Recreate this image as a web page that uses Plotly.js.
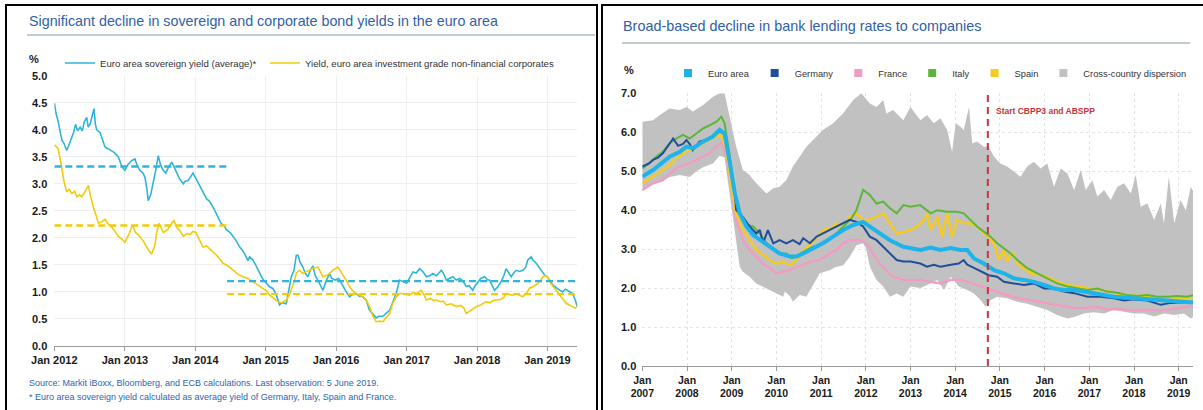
<!DOCTYPE html>
<html><head><meta charset="utf-8">
<script src="https://cdn.plot.ly/plotly-3.0.1.min.js"></script>
<style>html,body{margin:0;padding:0;background:#fff}#chart{width:1203px;height:410px}</style>
</head><body><div id="chart"></div>
<script>
// ---------------- LEFT PANEL DATA ----------------
const leftTitle = "Significant decline in sovereign and corporate bond yields in the euro area";
const sovName = "Euro area sovereign yield (average)*";
const corpName = "Yield, euro area investment grade non-financial corporates";
const sourceNote1 = "Source: Markit iBoxx, Bloomberg, and ECB calculations. Last observation: 5 June 2019.";
const sourceNote2 = "* Euro area sovereign yield calculated as average yield of Germany, Italy, Spain and France.";

const sovDates = ["2012-01-02","2012-01-10","2012-01-20","2012-02-01","2012-02-10","2012-02-20","2012-03-05","2012-03-15","2012-04-01","2012-04-10","2012-04-20","2012-05-01","2012-05-14","2012-05-25","2012-06-05","2012-06-17","2012-06-25","2012-07-04","2012-07-15","2012-07-25","2012-08-01","2012-08-08","2012-08-25","2012-09-05","2012-09-20","2012-10-05","2012-10-20","2012-11-02","2012-11-15","2012-11-28","2012-12-10","2012-12-20",
"2013-01-01","2013-01-15","2013-02-05","2013-02-22","2013-03-05","2013-03-19","2013-04-05","2013-04-15","2013-04-25","2013-05-02","2013-05-15","2013-05-28","2013-06-10","2013-06-23","2013-07-05","2013-07-19","2013-08-01","2013-08-14","2013-09-01","2013-09-15","2013-09-26","2013-10-10","2013-10-31","2013-11-10","2013-11-25","2013-12-10","2013-12-20",
"2014-01-04","2014-01-20","2014-02-10","2014-03-01","2014-03-15","2014-04-03","2014-04-20","2014-05-15","2014-06-01","2014-06-11","2014-07-01","2014-07-16","2014-08-01","2014-08-19","2014-09-01","2014-09-15","2014-10-01","2014-10-10","2014-10-27","2014-11-10","2014-12-01","2014-12-15",
"2015-01-05","2015-01-20","2015-02-08","2015-02-25","2015-03-14","2015-03-28","2015-04-18","2015-05-01","2015-05-14","2015-05-28","2015-06-09","2015-06-18","2015-06-28","2015-07-13","2015-07-25","2015-08-08","2015-08-20","2015-09-03","2015-09-15","2015-09-29","2015-10-10","2015-10-25","2015-11-10","2015-11-28","2015-12-10","2015-12-29",
"2016-01-15","2016-02-05","2016-02-20","2016-03-11","2016-03-25","2016-04-15","2016-05-01","2016-05-19","2016-06-05","2016-06-23","2016-07-10","2016-07-27","2016-08-10","2016-08-31","2016-09-15","2016-10-05","2016-10-20","2016-11-08","2016-11-25","2016-12-10",
"2017-01-01","2017-01-15","2017-02-03","2017-02-20","2017-03-09","2017-03-25","2017-04-13","2017-05-01","2017-05-17","2017-06-05","2017-06-30","2017-07-10","2017-07-26","2017-08-10","2017-08-29","2017-09-15","2017-10-03","2017-10-20","2017-11-06","2017-11-20","2017-12-10","2017-12-20",
"2018-01-02","2018-01-20","2018-02-09","2018-02-25","2018-03-07","2018-03-20","2018-04-02","2018-04-20","2018-05-06","2018-05-20","2018-06-01","2018-06-15","2018-06-27","2018-07-10","2018-07-23","2018-08-10","2018-08-26","2018-09-10","2018-09-21","2018-10-09","2018-10-20","2018-11-04","2018-11-20","2018-12-08","2018-12-20",
"2019-01-01","2019-01-15","2019-01-29","2019-02-15","2019-03-04","2019-03-20","2019-04-05","2019-04-16","2019-05-01","2019-05-12","2019-05-25","2019-06-05"];
const sovYield = [4.49,4.30,4.17,3.95,3.80,3.75,3.62,3.70,3.87,3.95,4.10,3.98,4.05,3.98,4.15,4.23,4.05,4.10,4.25,4.39,4.10,4.00,3.95,3.85,3.68,3.65,3.62,3.59,3.55,3.50,3.38,3.30,
3.25,3.35,3.43,3.46,3.35,3.25,3.20,3.12,2.90,2.69,2.80,3.00,3.25,3.52,3.35,3.25,3.20,3.30,3.40,3.30,3.20,3.10,3.00,3.05,3.06,3.15,3.20,
3.10,3.00,2.85,2.72,2.68,2.57,2.45,2.27,2.22,2.15,2.10,2.03,1.95,1.83,1.78,1.70,1.58,1.65,1.59,1.50,1.34,1.25,
1.16,1.10,1.06,0.95,0.76,0.80,0.78,1.05,1.28,1.40,1.68,1.68,1.55,1.46,1.35,1.28,1.40,1.48,1.30,1.22,1.15,1.03,1.20,1.34,1.25,1.22,
1.25,1.10,1.02,0.91,0.95,0.97,0.92,0.91,0.85,0.66,0.58,0.52,0.55,0.55,0.60,0.66,0.80,0.97,1.22,1.20,
1.16,1.25,1.37,1.35,1.43,1.38,1.28,1.30,1.34,1.30,1.40,1.35,1.22,1.25,1.28,1.22,1.25,1.20,1.10,1.12,1.03,1.10,
1.16,1.25,1.28,1.22,1.22,1.12,1.03,1.10,1.19,1.30,1.43,1.35,1.28,1.35,1.40,1.38,1.40,1.45,1.59,1.65,1.58,1.53,1.45,1.34,1.30,
1.28,1.20,1.13,1.08,1.03,1.00,1.05,1.03,1.00,0.97,0.85,0.73];

const corpDates = ["2012-01-02","2012-01-12","2012-01-21","2012-02-01","2012-02-08","2012-02-20","2012-03-05","2012-03-18","2012-04-01","2012-04-15","2012-04-27","2012-05-10","2012-05-22","2012-06-08","2012-06-26","2012-07-05","2012-07-21","2012-08-05","2012-08-17","2012-09-05","2012-09-20","2012-10-08","2012-10-25","2012-11-10","2012-11-28","2012-12-15",
"2013-01-01","2013-01-20","2013-02-09","2013-02-25","2013-03-19","2013-04-05","2013-04-24","2013-05-08","2013-05-20","2013-06-05","2013-06-15","2013-06-28","2013-07-19","2013-08-10","2013-09-01","2013-09-12","2013-09-26","2013-10-15","2013-10-31","2013-11-20","2013-12-05","2013-12-20",
"2014-01-04","2014-01-20","2014-02-10","2014-03-01","2014-03-16","2014-04-05","2014-04-21","2014-05-10","2014-05-25","2014-06-20","2014-07-16","2014-08-10","2014-09-06","2014-10-01","2014-10-27","2014-11-20","2014-12-18",
"2015-01-05","2015-01-22","2015-02-10","2015-03-06","2015-03-25","2015-04-18","2015-05-01","2015-05-14","2015-05-28","2015-06-09","2015-06-25","2015-07-13","2015-07-30","2015-08-16","2015-09-05","2015-09-29","2015-10-10","2015-10-25","2015-11-10","2015-11-28","2015-12-15",
"2016-01-10","2016-01-25","2016-02-13","2016-02-28","2016-03-11","2016-03-28","2016-04-15","2016-05-01","2016-05-19","2016-06-05","2016-06-23","2016-07-10","2016-07-27","2016-08-15","2016-08-31","2016-09-15","2016-10-05","2016-10-20","2016-11-08","2016-11-25","2016-12-13",
"2017-01-16","2017-02-05","2017-02-20","2017-03-17","2017-04-01","2017-04-13","2017-05-05","2017-05-20","2017-06-03","2017-06-25","2017-07-10","2017-07-26","2017-08-20","2017-09-16","2017-10-10","2017-10-25","2017-11-06","2017-11-25","2017-12-10","2017-12-29",
"2018-01-20","2018-02-18","2018-03-10","2018-03-25","2018-04-10","2018-05-01","2018-05-20","2018-06-01","2018-06-20","2018-07-05","2018-07-23","2018-08-10","2018-08-26","2018-09-15","2018-09-30","2018-10-20","2018-11-13","2018-11-28","2018-12-08","2018-12-20",
"2019-01-01","2019-01-20","2019-02-16","2019-03-10","2019-03-25","2019-04-08","2019-04-25","2019-05-12","2019-05-25","2019-06-05"];
const corpYield = [3.72,3.68,3.65,3.45,3.30,3.05,2.85,2.90,2.82,2.86,2.76,2.80,2.76,2.85,2.97,2.80,2.58,2.40,2.27,2.30,2.34,2.25,2.20,2.12,2.03,1.98,
1.92,2.05,2.24,2.10,2.03,1.95,1.83,1.75,1.71,1.85,2.10,2.27,2.10,2.15,2.27,2.32,2.20,2.12,2.03,2.08,2.06,2.12,
2.10,1.98,1.83,1.85,1.80,1.75,1.68,1.60,1.53,1.48,1.40,1.33,1.28,1.25,1.19,1.13,1.07,
1.02,0.94,0.88,0.82,0.80,0.85,0.92,1.03,1.18,1.35,1.40,1.34,1.38,1.40,1.44,1.46,1.38,1.28,1.30,1.34,1.40,
1.46,1.38,1.28,1.18,1.10,1.02,0.97,0.94,0.91,0.85,0.73,0.55,0.45,0.46,0.45,0.52,0.60,0.78,0.91,0.97,0.97,
0.94,0.99,0.97,1.03,0.95,0.85,0.88,0.84,0.85,0.82,0.83,0.76,0.78,0.73,0.75,0.70,0.60,0.65,0.68,0.73,
0.76,0.82,0.80,0.84,0.85,0.86,0.90,0.97,0.95,0.94,0.97,0.94,0.91,0.98,1.07,1.10,1.16,1.22,1.28,1.30,
1.28,1.15,1.03,0.92,0.85,0.79,0.76,0.73,0.70,0.73];

// period averages (dashed lines)
const avgPeriodStart = ["2012-01-01","2014-06-15"];
const avgPeriodEnd = ["2014-06-23","2019-06-05"];
const sovAverage = [3.32, 1.20];
const corpAverage = [2.23, 0.96];

// ---------------- RIGHT PANEL DATA ----------------
const rightTitle = "Broad-based decline in bank lending rates to companies";
const yearTicks = [2007,2008,2009,2010,2011,2012,2013,2014,2015,2016,2017,2018,2019];
const yearLabels = yearTicks.map(y => "Jan<br>" + y);
const cbppStart = 2014.73;
const cbppLabel = "Start CBPP3 and ABSPP";

const euroArea = [[2007.00,4.86],[2007.24,5.03],[2007.61,5.37],[2007.84,5.50],[2007.99,5.63],[2008.13,5.59],[2008.36,5.76],[2008.58,5.89],[2008.73,6.06],[2008.84,5.97],[2008.96,5.20],[2009.07,4.43],[2009.18,3.92],[2009.33,3.58],[2009.48,3.36],[2009.70,3.19],[2009.93,3.02],[2010.07,2.89],[2010.30,2.81],[2010.45,2.81],[2010.60,2.89],[2010.82,3.02],[2011.04,3.15],[2011.27,3.32],[2011.49,3.49],[2011.72,3.62],[2011.94,3.70],[2012.09,3.58],[2012.31,3.40],[2012.54,3.23],[2012.84,3.06],[2013.00,3.02],[2013.22,2.98],[2013.45,3.04],[2013.67,2.98],[2013.90,3.03],[2014.12,2.98],[2014.27,2.98],[2014.42,2.76],[2014.64,2.63],[2014.87,2.46],[2015.09,2.38],[2015.31,2.25],[2015.54,2.21],[2015.76,2.16],[2015.99,2.08],[2016.21,1.99],[2016.43,1.95],[2016.66,1.95],[2016.88,1.91],[2017.10,1.86],[2017.33,1.82],[2017.55,1.78],[2017.78,1.76],[2018.00,1.74],[2018.22,1.71],[2018.45,1.69],[2018.67,1.67],[2018.90,1.65],[2019.12,1.64],[2019.32,1.63]];

const germany = [[2007.00,5.12],[2007.15,5.20],[2007.24,5.29],[2007.35,5.35],[2007.46,5.46],[2007.55,5.60],[2007.69,5.84],[2007.80,5.65],[2007.91,5.70],[2007.99,5.80],[2008.06,5.70],[2008.13,5.54],[2008.21,5.65],[2008.28,5.76],[2008.36,5.78],[2008.58,5.90],[2008.73,6.02],[2008.84,5.95],[2008.96,5.25],[2009.07,4.45],[2009.10,4.00],[2009.25,3.83],[2009.40,3.58],[2009.55,3.40],[2009.63,3.49],[2009.70,3.15],[2009.81,3.49],[2009.93,3.15],[2010.07,3.23],[2010.22,3.15],[2010.37,3.23],[2010.52,3.13],[2010.60,3.28],[2010.75,3.15],[2010.90,3.32],[2011.04,3.40],[2011.19,3.49],[2011.34,3.58],[2011.49,3.66],[2011.64,3.75],[2011.79,3.70],[2011.94,3.58],[2012.09,3.32],[2012.24,3.23],[2012.39,3.06],[2012.54,2.89],[2012.69,2.72],[2012.84,2.68],[2013.00,2.68],[2013.22,2.63],[2013.37,2.55],[2013.52,2.60],[2013.67,2.55],[2013.90,2.60],[2014.08,2.63],[2014.19,2.72],[2014.27,2.60],[2014.42,2.52],[2014.64,2.38],[2014.75,2.33],[2014.94,2.29],[2015.09,2.16],[2015.31,2.12],[2015.54,2.08],[2015.76,2.12],[2015.99,1.99],[2016.21,1.99],[2016.43,1.91],[2016.66,1.87],[2016.96,1.78],[2017.25,1.78],[2017.55,1.74],[2017.78,1.68],[2018.00,1.71],[2018.30,1.68],[2018.60,1.57],[2018.82,1.62],[2019.04,1.63],[2019.32,1.65]];

const france = [[2007.00,4.52],[2007.24,4.69],[2007.46,4.77],[2007.61,4.94],[2007.76,5.07],[2007.91,5.16],[2008.06,5.20],[2008.21,5.29],[2008.36,5.37],[2008.51,5.46],[2008.66,5.63],[2008.77,5.76],[2008.88,5.37],[2008.99,4.52],[2009.10,3.75],[2009.25,3.23],[2009.40,2.98],[2009.55,2.81],[2009.70,2.63],[2009.85,2.51],[2010.00,2.38],[2010.15,2.42],[2010.30,2.46],[2010.45,2.55],[2010.60,2.59],[2010.75,2.68],[2010.97,2.72],[2011.19,2.89],[2011.34,2.98],[2011.49,3.15],[2011.64,3.23],[2011.87,3.23],[2012.01,3.15],[2012.16,2.89],[2012.31,2.63],[2012.46,2.46],[2012.61,2.29],[2012.84,2.21],[2013.00,2.21],[2013.22,2.21],[2013.45,2.16],[2013.67,2.12],[2013.90,2.21],[2014.12,2.21],[2014.27,2.16],[2014.49,2.08],[2014.72,1.99],[2014.94,1.91],[2015.16,1.82],[2015.39,1.74],[2015.61,1.70],[2015.84,1.65],[2016.06,1.61],[2016.28,1.57],[2016.51,1.52],[2016.73,1.48],[2016.96,1.50],[2017.18,1.52],[2017.40,1.45],[2017.63,1.47],[2017.85,1.44],[2018.07,1.43],[2018.30,1.44],[2018.52,1.43],[2018.75,1.44],[2018.97,1.48],[2019.19,1.52],[2019.32,1.54]];

const italy = [[2007.00,5.07],[2007.15,5.20],[2007.31,5.37],[2007.46,5.50],[2007.61,5.71],[2007.76,5.84],[2007.91,5.93],[2008.06,5.84],[2008.21,5.97],[2008.36,6.10],[2008.51,6.18],[2008.66,6.27],[2008.77,6.40],[2008.84,6.23],[2008.96,5.37],[2009.07,4.43],[2009.18,3.92],[2009.33,3.62],[2009.48,3.58],[2009.63,3.40],[2009.78,3.15],[2009.93,3.02],[2010.07,2.89],[2010.22,2.89],[2010.34,2.77],[2010.45,2.81],[2010.60,2.93],[2010.82,3.06],[2011.04,3.15],[2011.27,3.32],[2011.49,3.58],[2011.68,3.79],[2011.79,4.00],[2011.94,4.52],[2012.09,4.39],[2012.24,4.17],[2012.39,4.22],[2012.54,4.05],[2012.69,3.92],[2012.84,4.13],[2013.00,4.09],[2013.22,4.13],[2013.45,3.92],[2013.60,4.00],[2013.82,3.96],[2014.04,3.96],[2014.19,3.92],[2014.34,3.75],[2014.49,3.58],[2014.64,3.45],[2014.79,3.32],[2014.94,3.15],[2015.09,3.02],[2015.24,2.89],[2015.39,2.72],[2015.61,2.51],[2015.84,2.38],[2016.06,2.25],[2016.28,2.12],[2016.51,2.04],[2016.73,1.99],[2016.96,1.95],[2017.18,1.99],[2017.40,1.91],[2017.63,1.88],[2017.85,1.82],[2018.07,1.80],[2018.30,1.82],[2018.52,1.78],[2018.75,1.78],[2018.97,1.80],[2019.19,1.78],[2019.32,1.82]];

const spain = [[2007.00,4.69],[2007.24,4.86],[2007.46,5.03],[2007.61,5.16],[2007.76,5.33],[2007.91,5.46],[2008.06,5.54],[2008.21,5.63],[2008.36,5.71],[2008.51,5.80],[2008.66,5.89],[2008.77,5.93],[2008.88,5.54],[2008.99,4.60],[2009.10,3.92],[2009.25,3.49],[2009.40,3.23],[2009.55,2.98],[2009.70,2.85],[2009.85,2.72],[2010.00,2.63],[2010.15,2.68],[2010.30,2.59],[2010.41,2.68],[2010.60,2.95],[2010.82,3.20],[2010.97,3.40],[2011.12,3.53],[2011.19,3.49],[2011.34,3.66],[2011.49,3.58],[2011.64,3.83],[2011.79,3.92],[2011.94,3.75],[2012.09,3.75],[2012.24,3.83],[2012.39,3.92],[2012.54,3.66],[2012.69,3.40],[2012.84,3.44],[2013.00,3.49],[2013.15,3.58],[2013.30,3.75],[2013.37,3.92],[2013.45,3.49],[2013.60,3.83],[2013.71,3.32],[2013.82,3.92],[2013.93,3.32],[2014.04,3.75],[2014.19,3.66],[2014.34,3.66],[2014.49,3.58],[2014.64,3.40],[2014.75,3.32],[2014.87,3.15],[2014.98,2.72],[2015.09,2.98],[2015.16,2.68],[2015.28,2.93],[2015.39,2.63],[2015.54,2.51],[2015.69,2.38],[2015.84,2.35],[2016.06,2.29],[2016.28,2.16],[2016.51,2.08],[2016.73,2.04],[2016.96,2.00],[2017.18,1.95],[2017.40,1.93],[2017.63,1.86],[2017.85,1.83],[2018.07,1.80],[2018.30,1.81],[2018.52,1.74],[2018.75,1.78],[2018.97,1.74],[2019.19,1.72],[2019.32,1.69]];

const dispersionHigh = [[2007.00,6.27],[2007.24,6.31],[2007.40,6.45],[2007.61,6.61],[2007.84,6.57],[2007.99,6.65],[2008.13,6.53],[2008.36,6.70],[2008.58,6.91],[2008.73,7.00],[2008.84,7.00],[2008.92,6.57],[2009.03,6.06],[2009.10,5.63],[2009.25,5.03],[2009.40,4.90],[2009.55,4.69],[2009.78,4.43],[2009.93,4.56],[2010.07,4.60],[2010.22,4.77],[2010.37,5.12],[2010.52,5.37],[2010.67,5.63],[2010.82,5.80],[2011.04,6.06],[2011.27,6.23],[2011.49,6.48],[2011.72,6.83],[2011.90,7.00],[2012.09,6.74],[2012.24,6.65],[2012.39,6.83],[2012.46,6.48],[2012.61,6.57],[2012.84,6.31],[2013.00,6.65],[2013.11,6.48],[2013.22,6.31],[2013.37,6.44],[2013.52,6.23],[2013.67,6.36],[2013.82,6.06],[2013.93,5.50],[2014.01,6.23],[2014.12,6.14],[2014.19,6.06],[2014.31,6.65],[2014.38,5.71],[2014.49,5.76],[2014.64,5.63],[2014.75,5.63],[2014.87,5.37],[2015.01,5.20],[2015.16,5.12],[2015.31,4.99],[2015.46,4.86],[2015.61,5.12],[2015.76,5.24],[2015.91,5.07],[2016.06,5.20],[2016.21,4.60],[2016.36,5.07],[2016.51,4.94],[2016.66,4.52],[2016.81,5.03],[2016.92,4.52],[2017.07,4.77],[2017.18,4.35],[2017.33,4.52],[2017.48,4.26],[2017.63,4.60],[2017.78,4.69],[2017.93,4.43],[2018.04,4.90],[2018.15,4.09],[2018.30,4.17],[2018.45,3.75],[2018.60,4.17],[2018.67,3.66],[2018.78,4.86],[2018.90,3.66],[2019.04,4.26],[2019.16,4.00],[2019.27,4.60],[2019.32,4.50]];

const dispersionLow = [[2007.00,4.50],[2007.24,4.67],[2007.46,4.75],[2007.61,4.85],[2007.84,4.90],[2008.06,4.85],[2008.21,5.00],[2008.36,5.10],[2008.58,5.20],[2008.73,5.40],[2008.84,5.35],[2008.96,4.40],[2009.10,3.23],[2009.18,2.55],[2009.25,2.42],[2009.40,2.29],[2009.55,2.12],[2009.70,2.04],[2009.85,1.95],[2010.00,1.86],[2010.15,1.78],[2010.19,1.91],[2010.30,1.80],[2010.37,1.65],[2010.52,1.82],[2010.67,1.78],[2010.75,1.95],[2010.97,2.38],[2011.19,2.46],[2011.34,2.55],[2011.49,2.58],[2011.64,2.80],[2011.79,3.10],[2011.94,3.15],[2012.01,3.00],[2012.09,2.55],[2012.24,2.21],[2012.39,2.04],[2012.54,1.78],[2012.69,1.86],[2012.84,1.78],[2013.00,2.04],[2013.22,2.00],[2013.45,2.12],[2013.60,2.21],[2013.75,1.95],[2013.90,2.29],[2014.08,2.04],[2014.27,1.95],[2014.42,1.86],[2014.57,1.69],[2014.68,1.52],[2014.79,1.69],[2014.94,1.78],[2015.16,1.74],[2015.39,1.65],[2015.61,1.60],[2015.84,1.52],[2016.06,1.44],[2016.28,1.31],[2016.51,1.22],[2016.66,1.26],[2016.88,1.35],[2017.10,1.38],[2017.33,1.35],[2017.55,1.44],[2017.78,1.40],[2018.00,1.35],[2018.22,1.35],[2018.45,1.27],[2018.67,1.35],[2018.90,1.31],[2019.12,1.35],[2019.27,1.22],[2019.32,1.25]];

const rightSeriesNames = ["Euro area","Germany","France","Italy","Spain","Cross-country dispersion"];

// ---------------- STYLE ----------------
const W = 1203, H = 410;
const px = v => v / W;
const py = v => 1 - v / H;
const FONT = "'Liberation Sans Narrow','Arial Narrow','Liberation Sans',Arial,sans-serif";
const TITLE_BLUE = "#3161a5";
const SRC_BLUE = "#2f64ad";
const C = {sov:"#2fb4da", corp:"#f0cc0a", euro:"#1cb4ea", ger:"#1f4f9a", fra:"#f39cc3", ita:"#5db53c", spa:"#f6cb1f", band:"#c1c1c1", red:"#c8343c"};

const xs = a => a.map(p => p[0]);
const ys = a => a.map(p => p[1]);

const traces = [];
// Left panel
traces.push({x: sovDates, y: sovYield, type:"scatter", mode:"lines", name: sovName, line:{color:C.sov, width:1.6}, xaxis:"x", yaxis:"y", legend:"legend"});
traces.push({x: corpDates, y: corpYield, type:"scatter", mode:"lines", name: corpName, line:{color:C.corp, width:1.6}, xaxis:"x", yaxis:"y", legend:"legend3"});
for (let i = 0; i < sovAverage.length; i++) {
  traces.push({x:[avgPeriodStart[i], avgPeriodEnd[i]], y:[sovAverage[i], sovAverage[i]], type:"scatter", mode:"lines", line:{color:C.sov, width:2.4, dash:"7px,4px"}, showlegend:false, xaxis:"x", yaxis:"y"});
  traces.push({x:[avgPeriodStart[i], avgPeriodEnd[i]], y:[corpAverage[i], corpAverage[i]], type:"scatter", mode:"lines", line:{color:C.corp, width:2.4, dash:"7px,4px"}, showlegend:false, xaxis:"x", yaxis:"y"});
}
// Right panel: band
traces.push({x: xs(dispersionHigh).concat(xs(dispersionLow).reverse()), y: ys(dispersionHigh).concat(ys(dispersionLow).reverse()), type:"scatter", mode:"lines", fill:"toself", fillcolor:C.band, line:{width:0, color:C.band}, showlegend:false, xaxis:"x2", yaxis:"y2", hoverinfo:"skip"});
const lineSpecs = [[france, C.fra, 2.4],[spain, C.spa, 2.4],[italy, C.ita, 2],[germany, C.ger, 2],[euroArea, C.euro, 4]];
lineSpecs.forEach(s => traces.push({x: xs(s[0]), y: ys(s[0]), type:"scatter", mode:"lines", line:{color:s[1], width:s[2]}, showlegend:false, xaxis:"x2", yaxis:"y2"}));
// CBPP3 line
traces.push({x:[cbppStart, cbppStart], y:[0, 7.05], type:"scatter", mode:"lines", line:{color:C.red, width:2, dash:"7px,5px"}, showlegend:false, xaxis:"x2", yaxis:"y2", cliponaxis:false});
// legend entries (squares)
const legColors = [C.euro, C.ger, C.fra, C.ita, C.spa, C.band];
rightSeriesNames.forEach((n, i) => traces.push({x:[null], y:[null], type:"scatter", mode:"markers", name:n, marker:{symbol:"square", size:8, color:legColors[i]}, xaxis:"x2", yaxis:"y2", legend:"legend2"}));

const tickFont = {family: FONT, size: 11, color: "#1a1a1a", weight: "bold"};
const legFontL = {family:FONT, size:9.6, color:"#333"};

const layout = {
  width: W, height: H,
  margin: {l:0, r:0, t:0, b:0},
  paper_bgcolor: "#fff", plot_bgcolor: "#fff",
  font: {family: FONT, color: "#222"},
  showlegend: true,
  legend: {x: px(60), y: py(63), xanchor:"left", yanchor:"middle", orientation:"h", font:legFontL, bgcolor:"rgba(0,0,0,0)", borderwidth:0},
  legend3: {x: px(265), y: py(63), xanchor:"left", yanchor:"middle", orientation:"h", font:legFontL, bgcolor:"rgba(0,0,0,0)", borderwidth:0},
  legend2: {x: px(668), y: py(73), xanchor:"left", yanchor:"middle", orientation:"h", font:{family:FONT, size:9.3, color:"#333"}, bgcolor:"rgba(0,0,0,0)", borderwidth:0},
  xaxis: {domain:[px(54.3), px(577.3)], anchor:"y", type:"date", range:["2012-01-01","2019-06-05"], tick0:"2012-01-01", dtick:"M12", tickformat:"%b %Y",
    ticks:"outside", ticklen:4, tickcolor:"#9a9a9a", showline:true, linecolor:"#9a9a9a", linewidth:1, showgrid:true, gridcolor:"#eeeeee", zeroline:false, tickfont: tickFont, fixedrange:true},
  yaxis: {domain:[py(346), py(75.7)], anchor:"x", range:[0,5], dtick:0.5, tickformat:".1f", showline:false, showgrid:true, gridcolor:"#eeeeee", zeroline:false, ticks:"", ticklabelstandoff:6, tickfont: tickFont, fixedrange:true},
  xaxis2: {domain:[px(642.3), px(1193)], anchor:"y2", range:[2007, 2019.32], tickmode:"array", tickvals: yearTicks, ticktext: yearLabels,
    ticks:"outside", ticklen:4, tickcolor:"#9a9a9a", showline:true, linecolor:"#9a9a9a", linewidth:1, showgrid:true, gridcolor:"#e3e3e3", griddash:"dot", zeroline:false, tickfont: {family: FONT, size: 10.5, color:"#1a1a1a", weight:"bold"}, fixedrange:true},
  yaxis2: {domain:[py(366), py(93.3)], anchor:"x2", range:[0,7], dtick:1, tickformat:".1f", showline:false, showgrid:true, gridcolor:"#e3e3e3", griddash:"dot", zeroline:false, ticks:"", ticklabelstandoff:5, tickfont: tickFont, fixedrange:true},
  shapes: [
    {type:"rect", xref:"paper", yref:"paper", x0:px(6), x1:px(597), y0:py(440), y1:py(5), line:{color:"#000", width:2}, layer:"above"},
    {type:"rect", xref:"paper", yref:"paper", x0:px(602), x1:px(1215), y0:py(440), y1:py(5), line:{color:"#000", width:2}, layer:"above"},
    {type:"line", xref:"paper", yref:"paper", x0:px(27), x1:px(595), y0:py(35), y1:py(35), line:{color:"#c3cbd2", width:2}},
    {type:"line", xref:"paper", yref:"paper", x0:px(622), x1:px(1190), y0:py(43), y1:py(43), line:{color:"#c3cbd2", width:2}}
  ],
  annotations: [
    {text: leftTitle, xref:"paper", yref:"paper", x:px(27), y:py(21), xanchor:"left", yanchor:"middle", showarrow:false, font:{family:FONT, size:14.3, color:TITLE_BLUE}},
    {text: rightTitle, xref:"paper", yref:"paper", x:px(621), y:py(26), xanchor:"left", yanchor:"middle", showarrow:false, font:{family:FONT, size:14.4, color:TITLE_BLUE}},
    {text:"%", xref:"paper", yref:"paper", x:px(27), y:py(59), xanchor:"left", yanchor:"middle", showarrow:false, font:{family:FONT, size:11, color:"#1a1a1a", weight:"bold"}},
    {text:"%", xref:"paper", yref:"paper", x:px(622), y:py(70), xanchor:"left", yanchor:"middle", showarrow:false, font:{family:FONT, size:11, color:"#1a1a1a", weight:"bold"}},
    {text: sourceNote1, xref:"paper", yref:"paper", x:px(27), y:py(383), xanchor:"left", yanchor:"middle", showarrow:false, font:{family:FONT, size:9, color:SRC_BLUE}},
    {text: sourceNote2, xref:"paper", yref:"paper", x:px(27), y:py(397), xanchor:"left", yanchor:"middle", showarrow:false, font:{family:FONT, size:9, color:SRC_BLUE}},
    {text: cbppLabel, xref:"x2", yref:"y2", x:cbppStart, y:6.55, xanchor:"left", yanchor:"middle", xshift:6, showarrow:false, font:{family:FONT, size:8.5, color:C.red, weight:"bold"}}
  ]
};

Plotly.newPlot("chart", traces, layout, {displayModeBar:false, staticPlot:true});
</script></body></html>
